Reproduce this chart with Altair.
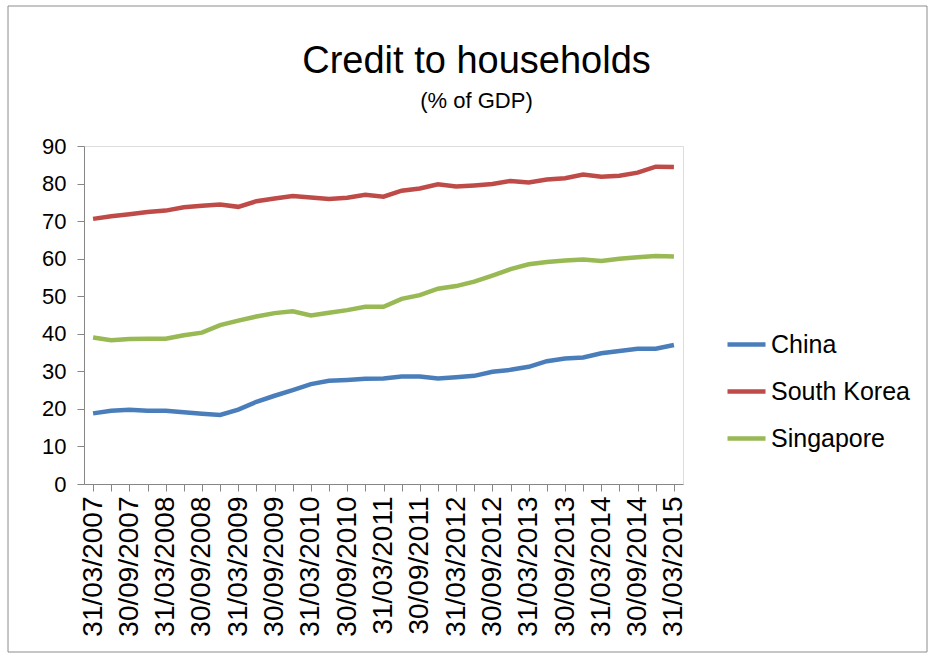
import altair as alt
import pandas as pd

dates = []
for y in range(2007, 2016):
    for md in ["31/03", "30/06", "30/09", "31/12"]:
        dates.append(f"{md}/{y}")
dates = dates[:33]

china = [18.8, 19.5, 19.8, 19.5, 19.5, 19.1, 18.7, 18.4, 19.8, 21.9, 23.5, 25.0, 26.6, 27.5, 27.7, 28.0,
         28.1, 28.6, 28.6, 28.1, 28.4, 28.8, 29.9, 30.4, 31.2, 32.7, 33.4, 33.7, 34.8, 35.4, 36.0, 36.0, 37.0]
south_korea = [70.6, 71.3, 71.8, 72.4, 72.8, 73.7, 74.1, 74.4, 73.8, 75.3, 76.0, 76.7, 76.3, 75.9, 76.2, 77.0,
               76.5, 78.1, 78.7, 79.8, 79.2, 79.5, 79.9, 80.7, 80.3, 81.1, 81.4, 82.4, 81.8, 82.1, 82.9, 84.5, 84.4]
singapore = [39.0, 38.3, 38.6, 38.7, 38.7, 39.6, 40.3, 42.3, 43.5, 44.6, 45.5, 46.0, 44.9, 45.6, 46.3, 47.2,
             47.2, 49.3, 50.3, 52.0, 52.7, 53.9, 55.5, 57.2, 58.5, 59.1, 59.5, 59.8, 59.4, 60.0, 60.4, 60.7, 60.6]

series_names = ["China", "South Korea", "Singapore"]
series_colors = ["#4a7ebb", "#be4b48", "#98b954"]

rows = []
for name, vals in zip(series_names, [china, south_korea, singapore]):
    for d, v in zip(dates, vals):
        rows.append({"date": d, "series": name, "value": v})
df = pd.DataFrame(rows)

FONT = "Liberation Sans"

lines = alt.Chart(df).mark_line(strokeWidth=4.5).encode(
    x=alt.X("date:O", sort=dates, title=None,
            scale=alt.Scale(paddingInner=0, paddingOuter=0),
            axis=alt.Axis(labelAngle=-90, bandPosition=0, tickSize=7, labelPadding=5,
                          labelExpr="indexof(datum.label, '/03/') >= 0 || indexof(datum.label, '/09/') >= 0 ? datum.label : ''",
                          labelFont=FONT, labelFontSize=28, labelColor="#000000",
                          domainColor="#868686", tickColor="#868686", labelOverlap=False)),
    y=alt.Y("value:Q", title=None,
            scale=alt.Scale(domain=[0, 90], nice=False),
            axis=alt.Axis(values=list(range(0, 91, 10)), tickSize=7, labelPadding=11, grid=False,
                          labelFont=FONT, labelFontSize=22, labelColor="#000000",
                          domainColor="#868686", tickColor="#868686")),
    color=alt.Color("series:N", sort=series_names,
                    scale=alt.Scale(domain=series_names, range=series_colors),
                    legend=alt.Legend(title=None, orient="none", legendX=641, legendY=177,
                                      symbolType="stroke", symbolSize=1444, symbolStrokeWidth=4.5,
                                      labelFont=FONT, labelFontSize=25, labelColor="#000000",
                                      labelOffset=3, rowPadding=12, padding=0)),
)

frame = alt.Chart(pd.DataFrame({"f": [0]})).mark_rect(fill=None, stroke="#8c8c8c", strokeWidth=1).encode(
    x=alt.value(-76), x2=alt.value(843), y=alt.value(-140), y2=alt.value(506)
)

chart = alt.layer(lines, frame).properties(
    width=599, height=338,
    padding={"left": 84, "top": 146, "right": 250, "bottom": 174},
    autosize=alt.AutoSizeParams(type="none"),
    title=alt.TitleParams(text="Credit to households", subtitle="(% of GDP)", anchor="middle",
                          frame="group",
                          font=FONT, fontSize=38, fontWeight="normal", color="#000000",
                          subtitleFont=FONT, subtitleFontSize=22, subtitleColor="#000000",
                          subtitlePadding=10, offset=-106, dx=93),
).configure_view(stroke=None).configure(background="white")

chart.save("out.html", embed_options={"renderer": "svg", "actions": False})
